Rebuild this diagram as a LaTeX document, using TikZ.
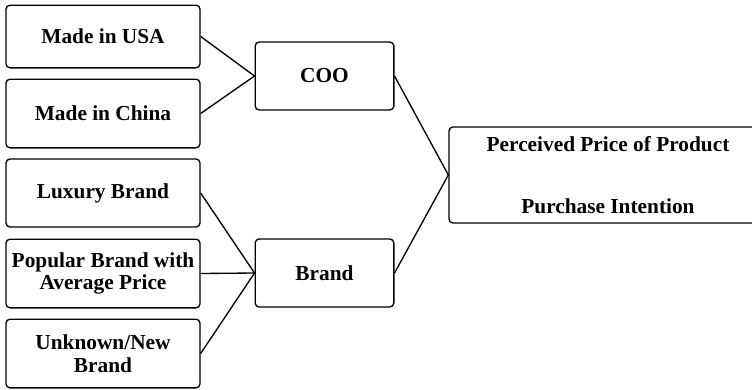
\documentclass[tikz,border=0pt]{standalone}
\usepackage{fontspec}
\setmainfont{Liberation Serif}
\usetikzlibrary{positioning}

\tikzset{
	factorbox/.style={draw,rounded corners=3pt,line width=1pt,align=center,
		font=\fontsize{16}{17}\selectfont\bfseries,inner sep=2pt},
	link/.style={line width=1pt}
}

\begin{document}
\begin{tikzpicture}[x=0.75pt,y=-0.75pt]
		\useasboundingbox (0,0) rectangle (752,389);
		\clip (0,0) rectangle (752,389);
		\node[factorbox,minimum width=145.5pt,minimum height=47pt] (usa) at (103,36.5) {Made in USA};
		\node[factorbox,minimum width=145.5pt,minimum height=51.5pt] (china) at (103,113.5) {Made in China};
		\node[factorbox,minimum width=145.5pt,minimum height=51pt] (luxury) at (103,193) {Luxury Brand};
		\node[factorbox,minimum width=145.5pt,minimum height=51.5pt] (popular) at (103,273.5) {Popular Brand with\\Average Price};
		\node[factorbox,minimum width=145.5pt,minimum height=51.5pt] (unknown) at (103,353.5) {Unknown/New\\Brand};
		\node[factorbox,minimum width=104pt,minimum height=51pt] (coo) at (324.5,76) {COO};
		\node[factorbox,minimum width=104pt,minimum height=51pt] (brand) at (324.5,273) {Brand};
		\node[factorbox,minimum width=238.5pt,minimum height=72pt] (outcome) at (608,175)
			{Perceived Price of Product\\[30pt]Purchase Intention};
		\draw[link] (usa.east) -- (coo.west);
		\draw[link] (china.east) -- (coo.west);
		\draw[link] (luxury.east) -- (brand.west);
		\draw[link] (popular.east) -- (brand.west);
		\draw[link] (unknown.east) -- (brand.west);
		\draw[link] (coo.east) -- (outcome.west);
		\draw[link] (brand.east) -- (outcome.west);
	\end{tikzpicture}
\end{document}
